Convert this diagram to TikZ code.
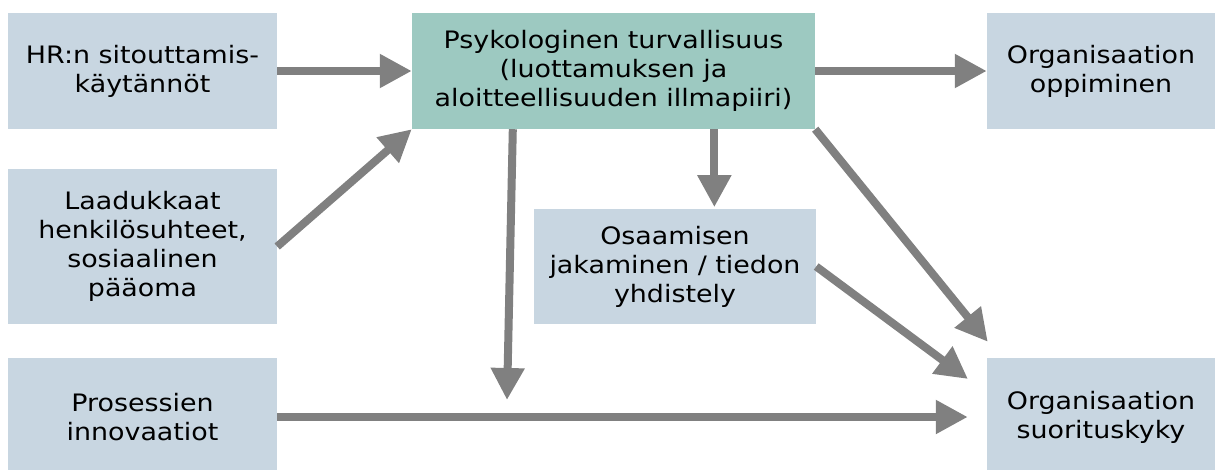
\documentclass[tikz,border=0pt]{standalone}
\usepackage{fontspec}
\usetikzlibrary{arrows.meta,calc}
\newfontfamily\boxfont[FakeStretch=1.12]{DejaVu Sans}
\definecolor{boxblue}{HTML}{C8D6E1}
\definecolor{boxteal}{HTML}{9DC9C1}
\definecolor{arrowgray}{HTML}{808080}
\tikzset{
  factor/.style={fill=boxblue, draw=none, inner sep=0pt, align=center,
    font=\boxfont\fontsize{24}{29}\selectfont},
  core/.style={factor, fill=boxteal},
  link/.style={draw=arrowgray, line width=8pt,
    -{Triangle[length=32pt,width=32pt]}},
}
\begin{document}
\begin{tikzpicture}[x=1pt,y=-1pt]
  \useasboundingbox (0,0) rectangle (1216,469);
  \clip (0,0) rectangle (1216,469);

  % left column: antecedents
  \node[factor, minimum width=269pt, minimum height=116pt] (hr) at (142.5,71)
    {HR:n sitouttamis-\\käytännöt};
  \node[factor, minimum width=269pt, minimum height=155pt] (laa) at (142.5,246.5)
    {Laadukkaat\\henkilösuhteet,\\sosiaalinen\\pääoma};
  \node[factor, minimum width=269pt, minimum height=118pt] (pro) at (142.5,417)
    {Prosessien\\innovaatiot};

  % centre: psychological safety and knowledge sharing
  \node[core, minimum width=403pt, minimum height=116pt] (psy) at (613.5,71)
    {Psykologinen turvallisuus\\(luottamuksen ja\\aloitteellisuuden illmapiiri)};
  \node[factor, minimum width=282pt, minimum height=115pt] (osa) at (675,266.5)
    {Osaamisen\\jakaminen / tiedon\\yhdistely};

  % right column: outcomes
  \node[factor, minimum width=228pt, minimum height=116pt] (opp) at (1101,71)
    {Organisaation\\oppiminen};
  \node[factor, minimum width=228pt, minimum height=118pt] (suor) at (1101,417)
    {Organisaation\\suorituskyky};

  % free arrow ends
  \coordinate (mod) at (507,400);
  \coordinate (osaTip) at (968,379);
  \coordinate (psyTip) at ($(suor.north west)+(1,-16)$);

  % connectors
  \draw[link] (hr.east) -- (psy.west);
  \draw[link] (laa.east) -- (psy.south west);
  \draw[link] (psy.east) -- (opp.west);
  \draw[link] ($(psy.south west)!0.75!(psy.south east)$) -- ++(0,78);
  \draw[link] ($(psy.south west)+(101,0)$) -- (mod);
  \draw[link] (psy.south east) -- (psyTip);
  \draw[link] (osa.east) -- (osaTip);
  \draw[link, shorten >=19pt] (pro.east) -- (suor.west);
\end{tikzpicture}
\end{document}
